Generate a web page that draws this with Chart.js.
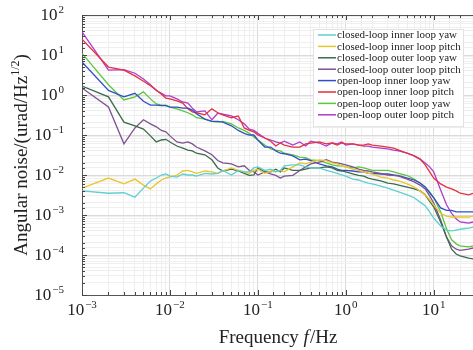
<!DOCTYPE html>
<html>
<head>
<meta charset="utf-8">
<script src="https://cdn.jsdelivr.net/npm/chart.js@4.4.0/dist/chart.umd.min.js"></script>
<style>
  html, body { margin: 0; padding: 0; background: #fff; }
  #wrap { width: 473px; height: 350px; }
</style>
</head>
<body>
<div id="wrap"><canvas id="psd"></canvas></div>
<script>
// frequency grid (Hz)
var freqs = [0.001, 0.002, 0.003, 0.004, 0.005, 0.006, 0.007, 0.008, 0.009, 0.01,
  0.012, 0.014, 0.016, 0.018, 0.02, 0.025, 0.03, 0.035, 0.04, 0.05, 0.06, 0.07, 0.08, 0.09, 0.1,
  0.12, 0.14, 0.16, 0.18, 0.2, 0.25, 0.3, 0.35, 0.4, 0.5, 0.6, 0.7, 0.8, 0.9, 1,
  1.2, 1.4, 1.6, 1.8, 2, 2.5, 3, 3.5, 4, 5, 6, 7, 8, 9, 10,
  12, 14, 16, 18, 20, 25, 28];

// angular noise, urad/Hz^1/2
var clInnerYaw = [0.004, 0.0035, 0.0036, 0.0028, 0.0047, 0.0071, 0.0084, 0.01, 0.0106, 0.0094,
  0.0089, 0.0106, 0.01, 0.01, 0.0094, 0.011, 0.0106, 0.011, 0.013, 0.01, 0.013, 0.012, 0.012, 0.015, 0.016,
  0.013, 0.014, 0.012, 0.013, 0.017, 0.018, 0.018, 0.016, 0.015, 0.015, 0.013, 0.012, 0.011, 0.01, 0.0094,
  0.0079, 0.0075, 0.0067, 0.0063, 0.006, 0.0053, 0.0047, 0.0042, 0.0038, 0.0032, 0.0027, 0.0021, 0.0017, 0.0012, 0.00084,
  0.00053, 0.00042, 0.0004, 0.00042, 0.00044, 0.00047, 0.0005];
var clInnerPitch = [0.0047, 0.0084, 0.006, 0.0079, 0.0056, 0.0045, 0.006, 0.0075, 0.0084, 0.0089,
  0.01, 0.0126, 0.013, 0.012, 0.011, 0.0126, 0.012, 0.011, 0.0126, 0.015, 0.013, 0.012, 0.011, 0.013, 0.014,
  0.011, 0.0126, 0.012, 0.013, 0.012, 0.016, 0.02, 0.019, 0.021, 0.024, 0.023, 0.02, 0.019, 0.017, 0.016,
  0.014, 0.013, 0.012, 0.011, 0.0106, 0.0089, 0.0084, 0.0075, 0.0071, 0.006, 0.005, 0.004, 0.0032, 0.0024, 0.0018,
  0.0011, 0.00094, 0.00089, 0.00089, 0.00089, 0.00089, 0.00094];
var clOuterYaw = [1.68, 0.9, 0.21, 0.17, 0.14, 0.095, 0.067, 0.075, 0.078, 0.067,
  0.053, 0.047, 0.042, 0.04, 0.035, 0.032, 0.024, 0.015, 0.0126, 0.014, 0.0126, 0.011, 0.0098, 0.01, 0.015,
  0.012, 0.012, 0.014, 0.012, 0.015, 0.013, 0.013, 0.014, 0.015, 0.015, 0.016, 0.015, 0.013, 0.0126, 0.012,
  0.0106, 0.0098, 0.0094, 0.0084, 0.0079, 0.0071, 0.0063, 0.006, 0.0056, 0.005, 0.0045, 0.004, 0.0032, 0.0022, 0.0016,
  0.00067, 0.00028, 0.00014, 0.000106, 0.000095, 0.000084, 0.00008];
var clOuterPitch = [1.5, 0.5, 0.06, 0.15, 0.24, 0.19, 0.16, 0.13, 0.12, 0.095,
  0.067, 0.063, 0.067, 0.06, 0.05, 0.04, 0.032, 0.023, 0.02, 0.019, 0.016, 0.017, 0.013, 0.012, 0.01,
  0.012, 0.0106, 0.0098, 0.0084, 0.0094, 0.0098, 0.013, 0.016, 0.019, 0.021, 0.024, 0.021, 0.02, 0.019, 0.018,
  0.016, 0.014, 0.013, 0.0126, 0.012, 0.011, 0.01, 0.0098, 0.0094, 0.0079, 0.0067, 0.0056, 0.0045, 0.003, 0.002,
  0.00075, 0.00028, 0.00017, 0.00014, 0.00013, 0.00014, 0.00015];
var olInnerYaw = [6.7, 1.3, 0.9, 1.1, 0.7, 0.56, 0.56, 0.54, 0.54, 0.5,
  0.5, 0.47, 0.47, 0.42, 0.34, 0.25, 0.22, 0.22, 0.21, 0.17, 0.13, 0.11, 0.1, 0.1, 0.075,
  0.05, 0.05, 0.04, 0.035, 0.034, 0.03, 0.024, 0.025, 0.023, 0.019, 0.017, 0.016, 0.014, 0.013, 0.013,
  0.0126, 0.012, 0.012, 0.011, 0.011, 0.0106, 0.0106, 0.01, 0.0097, 0.0084, 0.0075, 0.0063, 0.005, 0.0036, 0.0027,
  0.0015, 0.0013, 0.0013, 0.0012, 0.0012, 0.0012, 0.0012];
var olInnerPitch = [25, 5.0, 4.2, 3.0, 2.2, 1.7, 1.33, 1.05, 0.84, 0.8,
  0.71, 0.63, 0.45, 0.38, 0.36, 0.32, 0.45, 0.36, 0.32, 0.27, 0.3, 0.15, 0.13, 0.12, 0.1,
  0.084, 0.07, 0.053, 0.063, 0.056, 0.05, 0.05, 0.06, 0.063, 0.067, 0.06, 0.063, 0.056, 0.063, 0.06,
  0.06, 0.056, 0.056, 0.06, 0.056, 0.053, 0.05, 0.047, 0.042, 0.035, 0.03, 0.025, 0.018, 0.012, 0.0084,
  0.006, 0.005, 0.0045, 0.004, 0.0035, 0.0032, 0.0035];
var olOuterYaw = [11, 1.8, 0.75, 0.9, 1.2, 0.8, 0.6, 0.56, 0.56, 0.5,
  0.45, 0.4, 0.36, 0.32, 0.27, 0.25, 0.22, 0.21, 0.22, 0.19, 0.15, 0.13, 0.11, 0.089, 0.075,
  0.056, 0.045, 0.042, 0.04, 0.035, 0.032, 0.028, 0.027, 0.024, 0.023, 0.02, 0.018, 0.017, 0.017, 0.016,
  0.015, 0.016, 0.015, 0.014, 0.013, 0.013, 0.013, 0.012, 0.011, 0.0097, 0.0079, 0.0063, 0.005, 0.0038, 0.0027,
  0.0012, 0.00045, 0.00024, 0.00019, 0.00017, 0.00016, 0.00017];
var olOuterPitch = [38, 4.2, 4.3, 3.5, 2.5, 1.8, 1.3, 1.1, 0.95, 0.95,
  0.8, 0.67, 0.63, 0.47, 0.38, 0.4, 0.24, 0.35, 0.33, 0.3, 0.24, 0.19, 0.14, 0.13, 0.11,
  0.084, 0.075, 0.067, 0.063, 0.07, 0.056, 0.067, 0.053, 0.07, 0.063, 0.053, 0.063, 0.06, 0.067, 0.056,
  0.06, 0.056, 0.053, 0.053, 0.05, 0.047, 0.045, 0.042, 0.04, 0.035, 0.03, 0.025, 0.02, 0.016, 0.012,
  0.0042, 0.0018, 0.0011, 0.0008, 0.00067, 0.00063, 0.00067];

var seriesNames = ['closed-loop inner loop yaw', 'closed-loop inner loop pitch',
  'closed-loop outer loop yaw', 'closed-loop outer loop pitch',
  'open-loop inner loop yaw', 'open-loop inner loop pitch',
  'open-loop outer loop yaw', 'open-loop outer loop pitch'];
var seriesValues = [clInnerYaw, clInnerPitch, clOuterYaw, clOuterPitch,
  olInnerYaw, olInnerPitch, olOuterYaw, olOuterPitch];
var seriesColors = ['#5fcfd2', '#e8c62c', '#3c6a4c', '#7d5290',
  '#3150c6', '#e2313f', '#5cc63c', '#b13bcb'];

var xExps = [-3, -2, -1, 0, 1];
var yExps = [-5, -4, -3, -2, -1, 0, 1, 2];

var serif = '"Liberation Serif", "DejaVu Serif", serif';

// draws 10^n with a raised exponent
function drawPow(ctx, exp, x, y, align) {
  var base = '10', sup = exp < 0 ? '\u2212' + Math.abs(exp) : String(exp);
  ctx.font = '17px ' + serif;
  var wb = ctx.measureText(base).width;
  ctx.font = '11px ' + serif;
  var ws = ctx.measureText(sup).width;
  var total = wb + ws + 1;
  var left = align === 'right' ? x - total : x - total / 2;
  ctx.textAlign = 'left';
  ctx.textBaseline = 'middle';
  ctx.font = '17px ' + serif;
  ctx.fillText(base, left, y);
  ctx.font = '11px ' + serif;
  ctx.fillText(sup, left + wb + 1, y - 6);
}

var axesDecor = {
  id: 'axesDecor',
  afterDraw: function (chart) {
    var ctx = chart.ctx, xs = chart.scales.x, ys = chart.scales.y, a = chart.chartArea;
    ctx.save();
    // top border of the box
    ctx.strokeStyle = '#555';
    ctx.lineWidth = 1;
    ctx.beginPath();
    ctx.moveTo(a.left, Math.round(a.top) + 0.5); ctx.lineTo(a.right, Math.round(a.top) + 0.5);
    ctx.stroke();
    ctx.strokeStyle = '#444';
    // inward tick marks
    xs.ticks.forEach(function (t) {
      var px = Math.round(xs.getPixelForValue(t.value)) + 0.5;
      var len = t.major ? 5 : 3;
      ctx.beginPath();
      ctx.moveTo(px, a.bottom); ctx.lineTo(px, a.bottom - len);
      ctx.moveTo(px, a.top); ctx.lineTo(px, a.top + len);
      ctx.stroke();
    });
    ys.ticks.forEach(function (t) {
      var py = Math.round(ys.getPixelForValue(t.value)) + 0.5;
      var len = t.major ? 5 : 3;
      ctx.beginPath();
      ctx.moveTo(a.left, py); ctx.lineTo(a.left + len, py);
      ctx.stroke();
    });
    ctx.fillStyle = '#222';
    xExps.forEach(function (e) {
      drawPow(ctx, e, xs.getPixelForValue(Math.pow(10, e)), a.bottom + 16, 'center');
    });
    yExps.forEach(function (e) {
      drawPow(ctx, e, a.left - 18, ys.getPixelForValue(Math.pow(10, e)) + 1, 'right');
    });

    // x title
    ctx.textBaseline = 'alphabetic';
    var p1 = 'Frequency ', p3 = '/Hz';
    ctx.font = 'italic 19px ' + serif;
    var wf = ctx.measureText('f').width;
    ctx.font = '19px ' + serif;
    var w1 = ctx.measureText(p1).width, w3 = ctx.measureText(p3).width;
    var tx = (a.left + a.right) / 2 - (w1 + wf + w3) / 2;
    ctx.textAlign = 'left';
    ctx.fillText(p1, tx, 343);
    ctx.font = 'italic 19px ' + serif;
    ctx.fillText('f', tx + w1, 343);
    ctx.font = '19px ' + serif;
    ctx.fillText(p3, tx + w1 + wf + 1, 343);

    // y title, rotated
    ctx.save();
    ctx.translate(27, (a.top + a.bottom) / 2);
    ctx.rotate(-Math.PI / 2);
    var s1 = 'Angular noise/(urad/Hz', s2 = '1/2', s3 = ')';
    ctx.font = '19px ' + serif;
    var ws1 = ctx.measureText(s1).width, ws3 = ctx.measureText(s3).width;
    ctx.font = '12px ' + serif;
    var ws2 = ctx.measureText(s2).width;
    var sx = -(ws1 + ws2 + ws3) / 2;
    ctx.font = '19px ' + serif;
    ctx.fillText(s1, sx, 0);
    ctx.font = '12px ' + serif;
    ctx.fillText(s2, sx + ws1, -8);
    ctx.font = '19px ' + serif;
    ctx.fillText(s3, sx + ws1 + ws2, 0);
    ctx.restore();

    // legend box inside the plot
    var lx = 313, ly = 29, rowH = 11.4, bw = 150, bh = 8 * rowH + 6;
    ctx.fillStyle = '#fff';
    ctx.fillRect(lx, ly, bw, bh);
    ctx.strokeStyle = '#e2e2e2';
    ctx.strokeRect(lx + 0.5, ly + 0.5, bw, bh);
    ctx.font = '11px ' + serif;
    ctx.textBaseline = 'middle';
    chart.data.datasets.forEach(function (ds, i) {
      var cy = ly + 6 + rowH * i;
      ctx.strokeStyle = ds.borderColor;
      ctx.lineWidth = 1.5;
      ctx.beginPath();
      ctx.moveTo(lx + 5, cy); ctx.lineTo(lx + 23, cy);
      ctx.stroke();
      ctx.fillStyle = '#222';
      ctx.fillText(ds.label, lx + 24, cy + 0.5);
    });
    ctx.restore();
  }
};

function gridColor(c) {
  return c.tick && c.tick.major ? '#dadada' : '#efefef';
}

new Chart(document.getElementById('psd').getContext('2d'), {
  type: 'line',
  data: {
    datasets: seriesValues.map(function (vals, i) {
      return {
        label: seriesNames[i],
        data: freqs.map(function (f, k) { return { x: f, y: vals[k] }; }),
        borderColor: seriesColors[i],
        backgroundColor: seriesColors[i],
        borderWidth: 1.3,
        pointRadius: 0,
        tension: 0,
        fill: false
      };
    })
  },
  options: {
    responsive: true,
    maintainAspectRatio: false,
    animation: false,
    layout: { padding: { left: 82, top: 15, right: 0, bottom: 55 } },
    plugins: { legend: { display: false }, tooltip: { enabled: false } },
    scales: {
      x: {
        type: 'logarithmic',
        min: 0.001, max: 28,
        ticks: { display: false },
        grid: { color: gridColor, drawTicks: false, lineWidth: 1 },
        border: { display: true, color: '#555' }
      },
      y: {
        type: 'logarithmic',
        min: 1e-5, max: 100,
        ticks: { display: false },
        grid: { color: gridColor, drawTicks: false, lineWidth: 1 },
        border: { display: true, color: '#555' }
      }
    }
  },
  plugins: [axesDecor]
});
</script>
</body>
</html>
